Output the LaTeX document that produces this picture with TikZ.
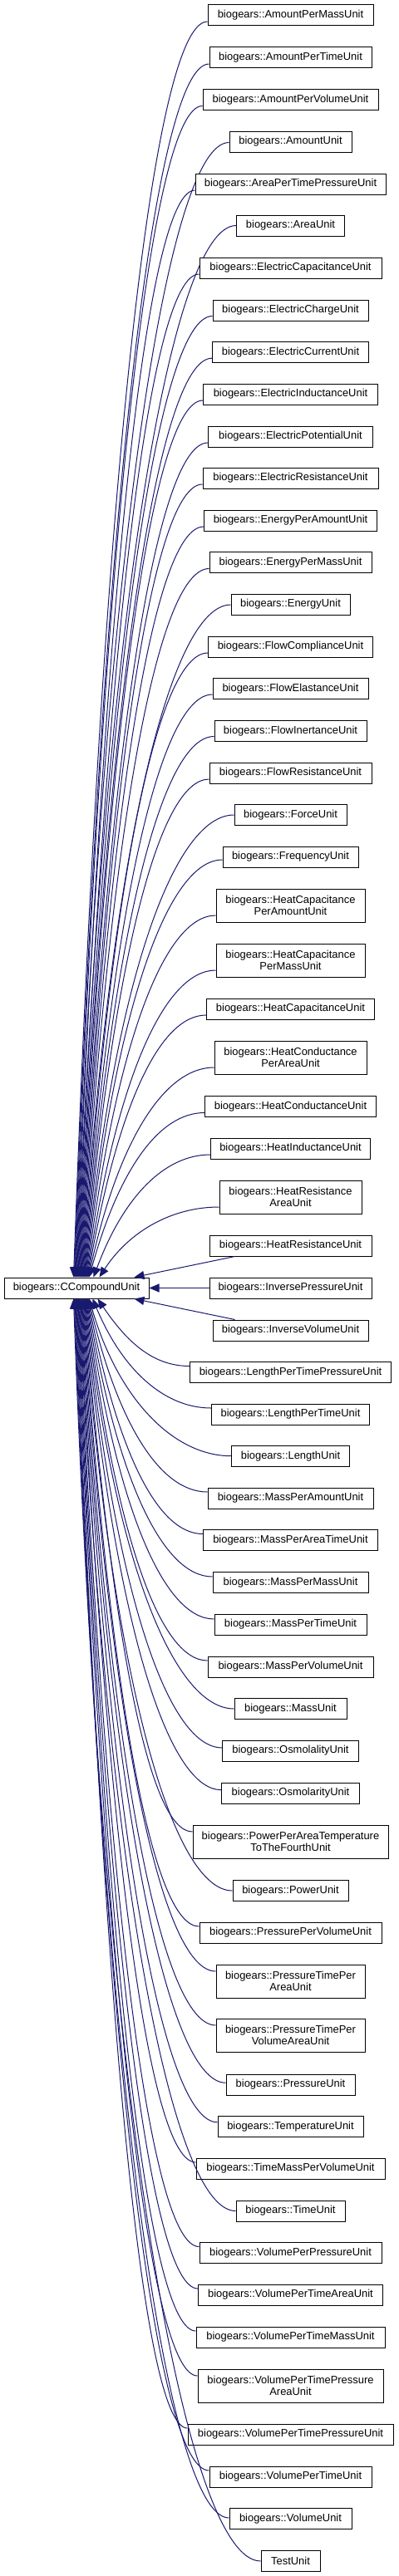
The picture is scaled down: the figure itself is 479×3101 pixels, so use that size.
\documentclass[tikz,border=0pt]{standalone}
\usepackage{fontspec}
\setmainfont{Liberation Sans}
\usetikzlibrary{arrows.meta}
\definecolor{edgeblue}{HTML}{191970}
\begin{document}
\begin{tikzpicture}[x=0.75pt,y=0.75pt,
  box/.style={draw=black, line width=0.75pt, fill=white, inner sep=0pt, align=center,
    font=\fontsize{9.7pt}{10.8pt}\selectfont, minimum height=18.75pt},
  edge/.style={draw=edgeblue, line width=0.75pt, -{Triangle[length=9pt,width=7.5pt]}, fill=none}]
\fill[white] (0,0) rectangle (479,-3101);
\useasboundingbox (0,0) rectangle (479,-3101);

\node[box, minimum width=174*0.75pt] (root) at (92,-1550.5) {biogears::CCompoundUnit};

% upper children
\foreach \nm/\yc/\bw/\bh/\sh/\xe/\txt in {
 apmu/18.5/199/25/7.5/89/{biogears::AmountPerMassUnit},
 aptu/69.5/195/25/7.5/89.75/{biogears::AmountPerTimeUnit},
 apvu/120/211/25/7.5/90.5/{biogears::AmountPerVolumeUnit},
 amu/170.5/147/25/1/91.25/{biogears::AmountUnit},
 aptpu/221.5/229/25/7.5/92/{biogears::AreaPerTimePressureUnit},
 aru/271.5/130/25/0/92.75/{biogears::AreaUnit},
 ecapu/322.5/219/25/7.5/93.5/{biogears::ElectricCapacitanceUnit},
 echu/373.5/187/25/7/94.25/{biogears::ElectricChargeUnit},
 ecuu/424/188/25/7.2/95/{biogears::ElectricCurrentUnit},
 eindu/474.5/210/25/7.5/95.75/{biogears::ElectricInductanceUnit},
 epotu/525.5/198/25/7.5/96.5/{biogears::ElectricPotentialUnit},
 eresu/575.5/211/25/7.5/97.25/{biogears::ElectricResistanceUnit},
 epau/626.5/208/25/7.5/98/{biogears::EnergyPerAmountUnit},
 epmu/677/195/25/7.5/98.75/{biogears::EnergyPerMassUnit},
 enu/727.5/143/25/0.5/99.5/{biogears::EnergyUnit},
 fcu/778.5/198/25/7.5/100.25/{biogears::FlowComplianceUnit},
 feu/829/187/25/7/101/{biogears::FlowElastanceUnit},
 fiu/880/183/25/6.5/101.75/{biogears::FlowInertanceUnit},
 fresu/930.5/195/25/7.5/102.5/{biogears::FlowResistanceUnit},
 fou/981/135/25/0/103.25/{biogears::ForceUnit},
 frqu/1031.5/163/25/3.5/104/{biogears::FrequencyUnit},
 hcpau/1090/179/40/12/104.75/{biogears::HeatCapacitance\\PerAmountUnit},
 hcpmu/1156/179/40/12/105.5/{biogears::HeatCapacitance\\PerMassUnit},
 hcu/1214.5/202/25/7.5/106.25/{biogears::HeatCapacitanceUnit},
 hcdpau/1273/183/40/12/107/{biogears::HeatConductance\\PerAreaUnit},
 hcdu/1332/206/25/7.5/107.75/{biogears::HeatConductanceUnit},
 hiu/1382.5/192/25/7.5/113/{biogears::HeatInductanceUnit},
 hrau/1441/171/40/12/120/{biogears::HeatResistance\\AreaUnit}}
{
  \node[box, minimum width=\bw*0.75pt, minimum height=\bh*0.75pt] (\nm) at (349.5,-\yc) {\txt};
  \pgfmathsetmacro\xs{349.5-\bw/2}
  \pgfmathsetmacro\vv{1538-(\yc+\sh)}
  \pgfmathsetmacro\cxa{\xs-0.4*(\xs-\xe)}
  \pgfmathsetmacro\cya{-(\yc+\sh)}
  \pgfmathsetmacro\cxb{\xe+35}
  \pgfmathsetmacro\cyb{-(1538-0.65*\vv)}
  \pgfmathsetmacro\edx{(\xe-5)*0.75}
  \pgfmathsetmacro\edy{\sh*0.75}
  \draw[edge] ([yshift=-\edy pt]\nm.west) .. controls (\cxa,\cya) and (\cxb,\cyb) .. ([xshift=\edx pt]root.north west);
}

% nearest three
\node[box, minimum width=195*0.75pt] (hru) at (349.5,-1499.5) {biogears::HeatResistanceUnit};
\draw[edge] ([xshift=31*0.75pt]hru.south west) -- ([xshift=157*0.75pt]root.north west);
\node[box, minimum width=195*0.75pt] (ipu) at (349.5,-1550.5) {biogears::InversePressureUnit};
\draw[edge] (ipu.west) -- (root.east);
\node[box, minimum width=187*0.75pt] (ivu) at (349.5,-1601.5) {biogears::InverseVolumeUnit};
\draw[edge] ([xshift=27*0.75pt]ivu.north west) -- ([xshift=157*0.75pt]root.south west);

% lower children
\foreach \nm/\yc/\bw/\bh/\sh/\xe/\txt in {
 lptpu/1652/242/25/7.5/118/{biogears::LengthPerTimePressureUnit},
 lptu/1702.5/190/25/7.5/112/{biogears::LengthPerTimeUnit},
 lu/1753/142/25/0.3/107.75/{biogears::LengthUnit},
 mpau/1803.5/199/25/7.5/107/{biogears::MassPerAmountUnit},
 mpatu/1854/210/25/7.5/106.25/{biogears::MassPerAreaTimeUnit},
 mpmu/1905/187/25/7/105.5/{biogears::MassPerMassUnit},
 mptu/1955.5/183/25/6.5/104.75/{biogears::MassPerTimeUnit},
 mpvu/2006.5/199/25/7.5/104/{biogears::MassPerVolumeUnit},
 mu/2057/135/25/0/103.25/{biogears::MassUnit},
 osmlu/2107.5/164/25/3.6/102.5/{biogears::OsmolalityUnit},
 osmru/2158.5/166/25/3.9/101.75/{biogears::OsmolarityUnit},
 ppatu/2217/235/40/12/101/{biogears::PowerPerAreaTemperature\\ToTheFourthUnit},
 pu/2276/139/25/0/100.25/{biogears::PowerUnit},
 ppvu/2326.5/219/25/7.5/99.5/{biogears::PressurePerVolumeUnit},
 ptpau/2385/179/40/12/98.75/{biogears::PressureTimePer\\AreaUnit},
 ptpvau/2450/179/40/12/98/{biogears::PressureTimePer\\VolumeAreaUnit},
 prsu/2509.5/155/25/2.25/97.25/{biogears::PressureUnit},
 tempu/2560/175/25/5.25/96.5/{biogears::TemperatureUnit},
 tmpvu/2610.5/227/25/7.5/95.75/{biogears::TimeMassPerVolumeUnit},
 tu/2661.5/131/25/0/95/{biogears::TimeUnit},
 vppu/2712/219/25/7.5/94.25/{biogears::VolumePerPressureUnit},
 vptau/2762.5/222/25/7.5/93.5/{biogears::VolumePerTimeAreaUnit},
 vptmu/2813.5/227/25/7.5/92.75/{biogears::VolumePerTimeMassUnit},
 vptpau/2872/223/40/12/92/{biogears::VolumePerTimePressure\\AreaUnit},
 vptpu/2930.5/247/25/7.5/91.25/{biogears::VolumePerTimePressureUnit},
 vptu/2981.5/195/25/7.5/90.5/{biogears::VolumePerTimeUnit},
 vu/3032/147/25/1/89.75/{biogears::VolumeUnit},
 testu/3083/71/25/0/89/{TestUnit}}
{
  \node[box, minimum width=\bw*0.75pt, minimum height=\bh*0.75pt] (\nm) at (349.5,-\yc) {\txt};
  \pgfmathsetmacro\xs{349.5-\bw/2}
  \pgfmathsetmacro\vv{(\yc-\sh)-1563}
  \pgfmathsetmacro\cxa{\xs-0.4*(\xs-\xe)}
  \pgfmathsetmacro\cya{-(\yc-\sh)}
  \pgfmathsetmacro\cxb{\xe+35}
  \pgfmathsetmacro\cyb{-(1563+0.65*\vv)}
  \pgfmathsetmacro\edx{(\xe-5)*0.75}
  \pgfmathsetmacro\edy{\sh*0.75}
  \draw[edge] ([yshift=\edy pt]\nm.west) .. controls (\cxa,\cya) and (\cxb,\cyb) .. ([xshift=\edx pt]root.south west);
}
\end{tikzpicture}
\end{document}
